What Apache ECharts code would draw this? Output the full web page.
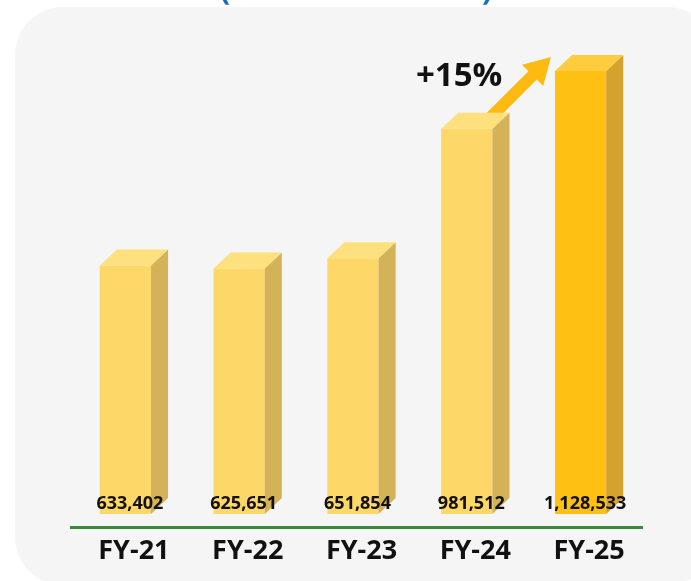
<!DOCTYPE html>
<html>
<head>
<meta charset="utf-8">
<script src="https://cdn.jsdelivr.net/npm/echarts@6/dist/echarts.min.js"></script>
<style>
  html, body { margin: 0; padding: 0; background: #ffffff; }
  #main { width: 691px; height: 581px; }
</style>
</head>
<body>
<div id="main"></div>
<script>
var categories = ['FY-21', 'FY-22', 'FY-23', 'FY-24', 'FY-25'];
var values = [633402, 625651, 651854, 981512, 1128533];
var growthText = '+15%';

var myChart = echarts.init(document.getElementById('main'));

// colours: front / side / top, last bar highlighted
var normalFace = ['#fdd767', '#d4b258', '#fee07f'];
var lastFace = ['#fec012', '#d6a22e', '#fecd3f'];

function fmt(v) {
    return v.toString().replace(/\B(?=(\d{3})+(?!\d))/g, ',');
}

var option = {
    backgroundColor: '#ffffff',
    graphic: [
        {
            type: 'rect', z: -10, silent: true,
            shape: { x: 15, y: 7, width: 700, height: 578, r: 48 },
            style: { fill: '#f5f5f5' }
        },
        {
            type: 'text', left: 220, top: -24, silent: true,
            style: { text: '(', font: 'bold 30px "Open Sans"', fill: '#1a6dbd' }
        },
        {
            type: 'text', left: 482, top: -24, silent: true,
            style: { text: ')', font: 'bold 30px "Open Sans"', fill: '#1a6dbd' }
        },
        {
            type: 'text', left: 416, top: 60, silent: true,
            style: { text: growthText, font: 'bold 33px "Open Sans"', fill: '#111111' }
        },
        {
            // growth arrow
            type: 'polygon', silent: true,
            shape: {
                points: [[485.8, 113.8], [528.4, 71.2], [522, 64.8], [551, 57], [543.2, 86], [536.8, 79.6], [494.2, 122.2]]
            },
            style: { fill: '#fdbb12' }
        },
        {
            // green baseline
            type: 'line', silent: true,
            shape: { x1: 70, y1: 527.5, x2: 643, y2: 527.5 },
            style: { stroke: '#3b8a3b', lineWidth: 3 }
        }
    ],
    grid: { left: 77, right: 45, top: 43, bottom: 67 },
    xAxis: {
        type: 'category',
        data: categories,
        axisLine: { show: false },
        axisTick: { show: false },
        axisLabel: {
            margin: 24,
            color: '#111111',
            fontSize: 27,
            fontWeight: 'bold',
            fontFamily: 'Open Sans'
        }
    },
    yAxis: {
        type: 'value',
        min: 0,
        max: 1200000,
        show: false,
        splitLine: { show: false }
    },
    series: [
        {
            type: 'custom',
            data: values.map(function (v, i) { return [i, v]; }),
            renderItem: function (params, api) {
                var i = api.value(0);
                var v = api.value(1);
                var top = api.coord([i, v]);
                var base = api.coord([i, 0]);
                var band = api.size([1, 0])[0];
                var w = band * 0.45;
                var dx = band * 0.15;
                var dy = 16;
                var x0 = top[0] - (w + dx) / 2;
                var x1 = x0 + w;
                var c = i === values.length - 1 ? lastFace : normalFace;
                return {
                    type: 'group',
                    children: [
                        {
                            type: 'rect',
                            shape: { x: x0, y: top[1], width: w, height: base[1] - top[1] },
                            style: { fill: c[0] }
                        },
                        {
                            type: 'polygon',
                            shape: { points: [[x1, top[1]], [x1 + dx, top[1] - dy], [x1 + dx, base[1] - dy], [x1, base[1]]] },
                            style: { fill: c[1] }
                        },
                        {
                            type: 'polygon',
                            shape: { points: [[x0, top[1]], [x0 + dx, top[1] - dy], [x1 + dx, top[1] - dy], [x1, top[1]]] },
                            style: { fill: c[2] }
                        },
                        {
                            type: 'text',
                            style: {
                                text: fmt(v),
                                x: top[0] - 4,
                                y: base[1] - 10,
                                align: 'center',
                                verticalAlign: 'middle',
                                font: 'bold 18px "Open Sans"',
                                fill: '#111111'
                            }
                        }
                    ]
                };
            }
        }
    ]
};

myChart.setOption(option);
</script>
</body>
</html>
